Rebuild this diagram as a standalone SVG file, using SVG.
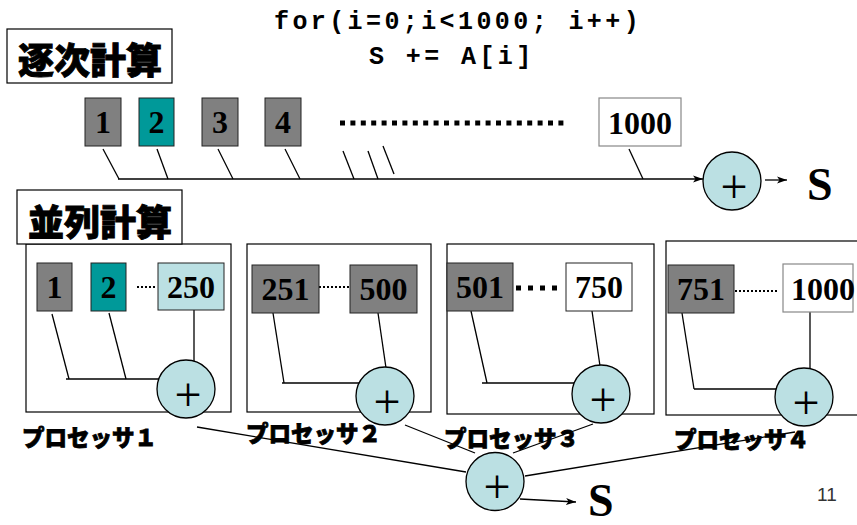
<svg xmlns="http://www.w3.org/2000/svg" width="857" height="525" viewBox="0 0 857 525">
  <style>
    .title { font-family: "Noto Sans CJK JP", "Noto Sans", sans-serif; font-weight: 900; font-size: 36px; fill: #000; stroke: #000; stroke-width: 0.9px; }
    .label { font-family: "Noto Sans CJK JP", "Noto Sans", sans-serif; font-weight: 900; font-size: 22.5px; fill: #000; stroke: #000; stroke-width: 0.8px; }
    .code { font-family: "Liberation Mono", "DejaVu Sans Mono", monospace; font-weight: bold; font-size: 25px; fill: #000; letter-spacing: 3.4px; }
    .num { font-family: "Liberation Serif", "DejaVu Serif", serif; font-weight: bold; font-size: 32px; fill: #000; text-anchor: middle; }
    .big { font-family: "Liberation Serif", "DejaVu Serif", serif; font-weight: bold; font-size: 46px; fill: #000; }
    .plus { font-family: "Liberation Serif", "Times New Roman", serif; font-size: 48px; fill: #000; text-anchor: middle; }
    .frame { fill: #fff; stroke: #000; stroke-width: 1.2; }
    .gray { fill: #808080; stroke: #222; stroke-width: 1; }
    .teal { fill: #009999; stroke: #222; stroke-width: 1; }
    .light { fill: #BBE0E3; stroke: #222; stroke-width: 1; }
    .white { fill: #fff; stroke: #222; stroke-width: 1; }
    .whiteg { fill: #fff; stroke: #888; stroke-width: 1.2; }
    .adder { fill: #BBE0E3; stroke: #000; stroke-width: 1.3; }
    .wire { fill: none; stroke: #000; stroke-width: 1.3; }
    .dots { fill: none; stroke: #000; stroke-width: 2; stroke-dasharray: 2 2; }
  </style>
  <defs>
    <marker id="arrow" viewBox="0 0 10 8" refX="10" refY="4" markerWidth="10" markerHeight="8" markerUnits="userSpaceOnUse" orient="auto">
      <path d="M0,0.5 L10,4 L0,7.5 L2.5,4 z" fill="#000"/>
    </marker>
  </defs>

  <rect width="857" height="525" fill="#fff"/>

  <!-- headings and loop code -->
  <g id="title-sequential">
    <rect x="7" y="29" width="165" height="54" class="frame"/>
    <text x="90" y="58" class="title" text-anchor="middle" dominant-baseline="central">逐次計算</text>
  </g>
  <g id="code">
    <text x="274" y="29" class="code">for(i=0;i&lt;1000; i++)</text>
    <text x="369" y="64" class="code">S += A[i]</text>
  </g>

  <!-- processor frames -->
  <g id="proc1-frame"><rect x="26" y="244" width="205" height="168" class="frame"/></g>
  <g id="proc2-frame"><rect x="247" y="244" width="184" height="168" class="frame"/></g>
  <g id="proc3-frame"><rect x="447" y="244" width="207" height="170" class="frame"/></g>
  <g id="proc4-frame"><rect x="666" y="241" width="200" height="174" class="frame"/></g>

  <g id="title-parallel">
    <rect x="17" y="190" width="165" height="54" class="frame"/>
    <text x="100" y="220" class="title" text-anchor="middle" dominant-baseline="central">並列計算</text>
  </g>

  <!-- connectors -->
  <g id="connectors">
    <!-- sequential sum -->
    <line x1="103" y1="149" x2="119" y2="179" class="wire"/>
    <line x1="157" y1="149" x2="168" y2="179" class="wire"/>
    <line x1="218" y1="149" x2="233" y2="179" class="wire"/>
    <line x1="285" y1="149" x2="300" y2="179" class="wire"/>
    <line x1="343" y1="151" x2="354" y2="179" class="wire"/>
    <line x1="368" y1="151" x2="378" y2="179" class="wire"/>
    <line x1="383" y1="146" x2="394" y2="174" class="wire"/>
    <line x1="629" y1="149" x2="643" y2="179" class="wire"/>
    <line x1="118" y1="179" x2="703" y2="179" class="wire" marker-end="url(#arrow)"/>
    <line x1="765" y1="180" x2="787" y2="180" class="wire" marker-end="url(#arrow)"/>
    <line x1="340" y1="123" x2="568" y2="123" fill="none" stroke="#000" stroke-width="5" stroke-dasharray="5 5.4"/>

    <!-- processor 1 -->
    <line x1="52" y1="314" x2="69" y2="379" class="wire"/>
    <line x1="109" y1="313" x2="126" y2="379" class="wire"/>
    <line x1="66" y1="379" x2="186" y2="379" class="wire"/>
    <line x1="194" y1="310" x2="194" y2="362" class="wire"/>
    <line x1="137" y1="287" x2="156" y2="287" class="dots"/>

    <!-- processor 2 -->
    <line x1="273" y1="313" x2="284" y2="383" class="wire"/>
    <line x1="282" y1="383" x2="385" y2="383" class="wire"/>
    <line x1="378" y1="313" x2="386" y2="368" class="wire"/>
    <line x1="319" y1="287" x2="350" y2="287" class="dots"/>

    <!-- processor 3 -->
    <line x1="471" y1="311" x2="487" y2="383" class="wire"/>
    <line x1="482" y1="383" x2="601" y2="383" class="wire"/>
    <line x1="592" y1="311" x2="600" y2="366" class="wire"/>
    <line x1="516" y1="288" x2="562" y2="288" fill="none" stroke="#000" stroke-width="5" stroke-dasharray="5 7"/>

    <!-- processor 4 -->
    <line x1="682" y1="313" x2="694" y2="389" class="wire"/>
    <line x1="694" y1="389" x2="804" y2="389" class="wire"/>
    <line x1="810" y1="312" x2="810" y2="369" class="wire"/>
    <line x1="735" y1="291" x2="778" y2="291" class="dots"/>

    <!-- final reduction -->
    <line x1="197" y1="427" x2="466" y2="472" class="wire"/>
    <line x1="405" y1="425" x2="475" y2="453" class="wire"/>
    <line x1="593" y1="424" x2="513" y2="453" class="wire"/>
    <line x1="795" y1="432" x2="525" y2="476" class="wire"/>
    <line x1="520" y1="499" x2="576" y2="502" class="wire" marker-end="url(#arrow)"/>
  </g>

  <!-- sequential elements -->
  <g id="seq-1"><rect x="85" y="98" width="36" height="48" class="gray"/><text x="103" y="133" class="num">1</text></g>
  <g id="seq-2"><rect x="139" y="98" width="35" height="48" class="teal"/><text x="156.5" y="133" class="num">2</text></g>
  <g id="seq-3"><rect x="202" y="98" width="36" height="48" class="gray"/><text x="220" y="133" class="num">3</text></g>
  <g id="seq-4"><rect x="265" y="98" width="36" height="48" class="gray"/><text x="283" y="133" class="num">4</text></g>
  <g id="seq-1000"><rect x="599" y="98" width="82" height="48" class="whiteg"/><text x="640" y="134" class="num">1000</text></g>
  <g id="seq-adder"><circle cx="732" cy="181" r="29" class="adder"/><text x="734" y="203" class="plus">+</text></g>
  <g id="seq-result"><text x="807" y="200" class="big">S</text></g>

  <!-- processor 1 elements -->
  <g id="p1-1"><rect x="37" y="263" width="35" height="48" class="gray"/><text x="54.5" y="298" class="num">1</text></g>
  <g id="p1-2"><rect x="91" y="263" width="35" height="48" class="teal"/><text x="108.5" y="298" class="num">2</text></g>
  <g id="p1-250"><rect x="158" y="263" width="66" height="47" class="light"/><text x="191" y="298" class="num">250</text></g>
  <g id="p1-adder"><circle cx="186" cy="389" r="29" class="adder"/><text x="188" y="411" class="plus">+</text></g>
  <g id="p1-label"><text x="22" y="436" class="label" dominant-baseline="central">プロセッサ１</text></g>

  <!-- processor 2 elements -->
  <g id="p2-251"><rect x="252" y="265" width="67" height="48" class="gray"/><text x="285.5" y="300" class="num">251</text></g>
  <g id="p2-500"><rect x="350" y="265" width="67" height="48" class="gray"/><text x="383.5" y="300" class="num">500</text></g>
  <g id="p2-adder"><circle cx="385" cy="396" r="29" class="adder"/><text x="387" y="418" class="plus">+</text></g>
  <g id="p2-label"><text x="246" y="432" class="label" dominant-baseline="central">プロセッサ２</text></g>

  <!-- processor 3 elements -->
  <g id="p3-501"><rect x="447" y="263" width="66" height="48" class="gray"/><text x="480" y="298" class="num">501</text></g>
  <g id="p3-750"><rect x="566" y="263" width="66" height="48" class="white"/><text x="599" y="298" class="num">750</text></g>
  <g id="p3-adder"><circle cx="601" cy="394" r="29" class="adder"/><text x="603" y="416" class="plus">+</text></g>
  <g id="p3-label"><text x="444" y="437" class="label" dominant-baseline="central">プロセッサ３</text></g>

  <!-- processor 4 elements -->
  <g id="p4-751"><rect x="668" y="265" width="66" height="48" class="gray"/><text x="701" y="300" class="num">751</text></g>
  <g id="p4-1000"><rect x="783" y="264" width="70" height="48" class="whiteg"/><text x="823" y="300" class="num">1000</text></g>
  <g id="p4-adder"><circle cx="804" cy="397" r="29" class="adder"/><text x="806" y="419" class="plus">+</text></g>
  <g id="p4-label"><text x="674" y="438" class="label" dominant-baseline="central">プロセッサ４</text></g>

  <!-- final adder -->
  <g id="final-adder"><circle cx="495" cy="481.5" r="29" class="adder"/><text x="497" y="503" class="plus">+</text></g>
  <g id="final-result"><text x="588" y="516" class="big" font-size="40">S</text></g>

  <text x="817" y="501" font-family="Liberation Sans, Arial, sans-serif" font-size="19" fill="#333">11</text>
</svg>
